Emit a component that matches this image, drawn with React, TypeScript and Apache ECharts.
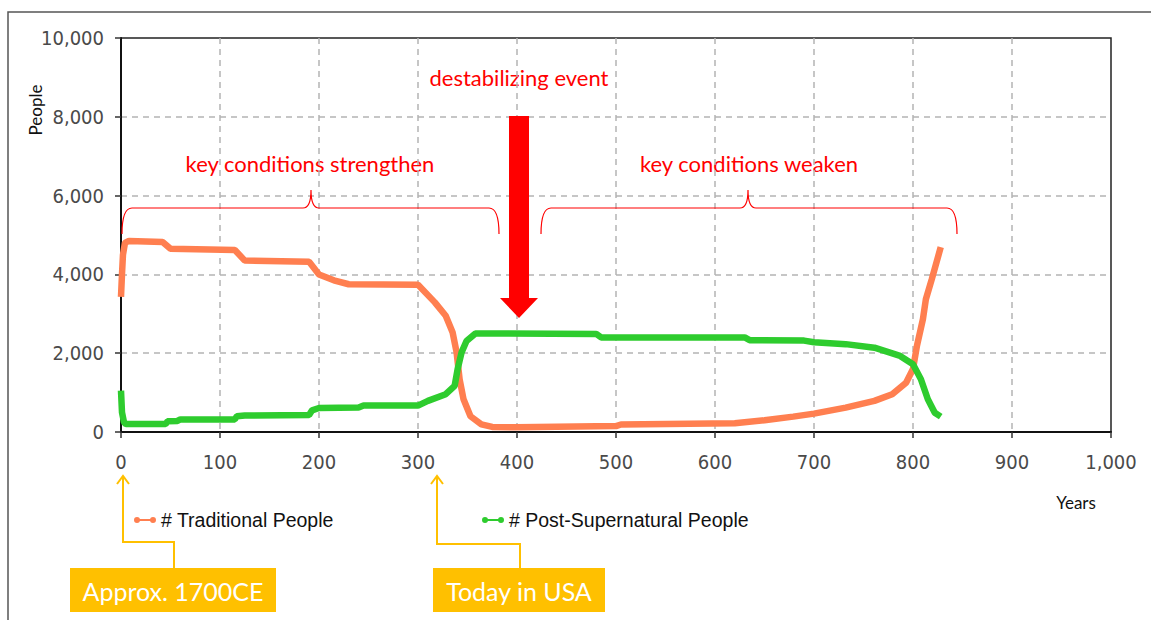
import React, { useEffect, useRef } from "react";
import * as echarts from "echarts";

const tradYears = [0, 1, 2, 4, 8, 42, 50, 115, 125, 190, 200, 215, 230, 300, 317, 328, 335, 339, 342, 346, 353, 364, 375, 400, 500, 505, 620, 650, 679, 700, 732, 761, 779, 793, 800, 804, 810, 813, 819, 828];
const tradValues = [3430, 4000, 4500, 4800, 4850, 4820, 4650, 4620, 4350, 4320, 4000, 3850, 3750, 3740, 3290, 2950, 2525, 2020, 1340, 830, 400, 195, 130, 120, 150, 190, 220, 300, 390, 466, 620, 790, 960, 1250, 1600, 2190, 2860, 3370, 3880, 4690];

const postYears = [0, 1, 3, 5, 45, 47, 57, 60, 115, 117, 125, 190, 193, 200, 240, 245, 300, 310, 328, 337, 340, 344, 349, 358, 480, 485, 630, 635, 690, 700, 732, 761, 787, 800, 808, 815, 822, 828];
const postValues = [1050, 500, 250, 200, 200, 270, 280, 320, 320, 400, 420, 430, 550, 610, 620, 670, 670, 790, 960, 1170, 1590, 2020, 2310, 2500, 2490, 2400, 2400, 2330, 2320, 2280, 2230, 2140, 1930, 1720, 1340, 830, 490, 390];

const xTicks = [0, 100, 200, 300, 400, 500, 600, 700, 800, 900, 1000];
const seriesNames = ["# Traditional People", "# Post-Supernatural People"];

const fmt = (v: number) => String(v).replace(/\B(?=(\d{3})+(?!\d))/g, ",");

const braceL = "M122,234 Q122,208 132,208 L303,208 Q311,208 311,190 Q311,208 319,208 L489,208 Q499,208 499,234";
const braceR = "M541,234 Q541,208 551,208 L740,208 Q748,208 748,190 Q748,208 756,208 L947,208 Q957,208 957,234";

let registered = false;
function registerShapes() {
  if (registered) return;
  echarts.graphic.registerShape("braceL", echarts.graphic.extendPath(braceL, {}));
  echarts.graphic.registerShape("braceR", echarts.graphic.extendPath(braceR, {}));
  registered = true;
}

const legendIcon =
  "path://M0,4a3,3 0 1,1 6,0a3,3 0 1,1 -6,0z M3,3h16v2H3z M16,4a3,3 0 1,1 6,0a3,3 0 1,1 -6,0z";

export default function App() {
  const ref = useRef<HTMLDivElement>(null);
  useEffect(() => {
    if (!ref.current) return;
    registerShapes();
    const chart = echarts.init(ref.current, null, { renderer: "svg" });
    const orange = "#ff7f50";
    const green = "#2ecc2e";
    const gold = "#ffc000";
    const tickFont = "'Liberation Sans Narrow', 'DejaVu Sans Condensed', 'Liberation Sans', sans-serif";
    const legFont = "'Liberation Sans', Arial, sans-serif";
    const annFont = "Lato, 'Open Sans', sans-serif";
    const split = { show: true, showMinLine: false, showMaxLine: false, lineStyle: { type: [6, 5], color: "#b4b4b4", width: 1.5 } };
    chart.setOption({
      animation: false,
      backgroundColor: "#ffffff",
      grid: {
        left: 121,
        right: 40,
        top: 38,
        bottom: 188,
        show: true,
        borderColor: "#222",
        borderWidth: 1.5,
      },
      legend: [
        {
          data: [seriesNames[0]],
          left: 129,
          top: 505,
          icon: legendIcon,
          itemWidth: 22,
          itemHeight: 8,
          itemGap: 9,
          textStyle: { fontFamily: legFont, fontSize: 19.5, color: "#111" },
        },
        {
          data: [seriesNames[1]],
          left: 477,
          top: 505,
          icon: legendIcon,
          itemWidth: 22,
          itemHeight: 8,
          textStyle: { fontFamily: legFont, fontSize: 19.5, color: "#111" },
        },
      ],
      xAxis: {
        type: "value",
        min: 0,
        max: 1000,
        interval: 100,
        axisLine: { show: true, lineStyle: { color: "#111", width: 2 } },
        axisTick: { show: true, length: 6, lineStyle: { color: "#333", width: 1.5 } },
        axisLabel: {
          margin: 20,
          color: "#4a4a4a",
          fontFamily: tickFont,
          fontSize: 20,
          formatter: (v: number) => (xTicks.includes(v) ? fmt(v) : ""),
        },
        splitLine: split,
      },
      yAxis: {
        type: "value",
        min: 0,
        max: 10000,
        interval: 2000,
        axisLine: { show: true, lineStyle: { color: "#111", width: 2 } },
        axisTick: { show: true, length: 6, lineStyle: { color: "#333", width: 1.5 } },
        axisLabel: {
          margin: 17,
          color: "#4a4a4a",
          fontFamily: tickFont,
          fontSize: 20,
          formatter: (v: number) => fmt(v),
        },
        splitLine: split,
      },
      series: [
        {
          name: seriesNames[0],
          type: "line",
          data: tradYears.map((y, i) => [y, tradValues[i]]),
          symbol: "none",
          color: orange,
          lineStyle: { color: orange, width: 6.5 },
          z: 3,
        },
        {
          name: seriesNames[1],
          type: "line",
          data: postYears.map((y, i) => [y, postValues[i]]),
          symbol: "none",
          color: green,
          lineStyle: { color: green, width: 6.5 },
          z: 4,
        },
      ],
      graphic: [
        { type: "polyline", shape: { points: [[8, 620], [8, 12], [1151, 12]] }, style: { stroke: "#555", lineWidth: 1.5, fill: "none" }, silent: true },
        { type: "text", x: 35, y: 110, rotation: Math.PI / 2, style: { text: "People", fontFamily: annFont, fontSize: 17, fill: "#111", align: "center", verticalAlign: "middle" } },
        { type: "text", x: 1076, y: 502, style: { text: "Years", fontFamily: annFont, fontSize: 17, fill: "#111", align: "center", verticalAlign: "middle" } },
        { type: "text", x: 519, y: 77, style: { text: "destabilizing event", fontFamily: annFont, fontSize: 22, fill: "#ff0000", align: "center", verticalAlign: "middle" } },
        { type: "text", x: 310, y: 163, style: { text: "key conditions strengthen", fontFamily: annFont, fontSize: 22, fill: "#ff0000", align: "center", verticalAlign: "middle" } },
        { type: "text", x: 749, y: 163, style: { text: "key conditions weaken", fontFamily: annFont, fontSize: 22, fill: "#ff0000", align: "center", verticalAlign: "middle" } },
        { type: "braceL", x: 0, y: 0, style: { stroke: "#ff0000", lineWidth: 1.2, fill: "none" }, z: 10 },
        { type: "braceR", x: 0, y: 0, style: { stroke: "#ff0000", lineWidth: 1.2, fill: "none" }, z: 10 },
        {
          type: "polygon",
          shape: { points: [[509, 116], [529, 116], [529, 298], [538, 298], [519, 318], [500, 298], [509, 298]] },
          style: { fill: "#ff0000" },
          z: 10,
        },
        { type: "polyline", shape: { points: [[174, 568], [174, 542], [123, 542], [123, 477]] }, style: { stroke: gold, lineWidth: 2, fill: "none" }, z: 10 },
        { type: "polyline", shape: { points: [[117, 484], [123, 476], [129, 484]] }, style: { stroke: gold, lineWidth: 2, fill: "none" }, z: 10 },
        { type: "polyline", shape: { points: [[520, 568], [520, 544], [437, 544], [437, 477]] }, style: { stroke: gold, lineWidth: 2, fill: "none" }, z: 10 },
        { type: "polyline", shape: { points: [[431, 484], [437, 476], [443, 484]] }, style: { stroke: gold, lineWidth: 2, fill: "none" }, z: 10 },
        { type: "rect", shape: { x: 70, y: 568, width: 206, height: 44 }, style: { fill: gold }, z: 10 },
        { type: "text", x: 173, y: 591, style: { text: "Approx. 1700CE", fontFamily: annFont, fontSize: 25, fill: "#ffffff", align: "center", verticalAlign: "middle" }, z: 11 },
        { type: "rect", shape: { x: 433, y: 568, width: 172, height: 44 }, style: { fill: gold }, z: 10 },
        { type: "text", x: 519, y: 591, style: { text: "Today in USA", fontFamily: annFont, fontSize: 25, fill: "#ffffff", align: "center", verticalAlign: "middle" }, z: 11 },
      ],
    });
    return () => chart.dispose();
  }, []);
  return <div ref={ref} style={{ width: 1151, height: 620, position: "absolute", left: 0, top: 0 }} />;
}
